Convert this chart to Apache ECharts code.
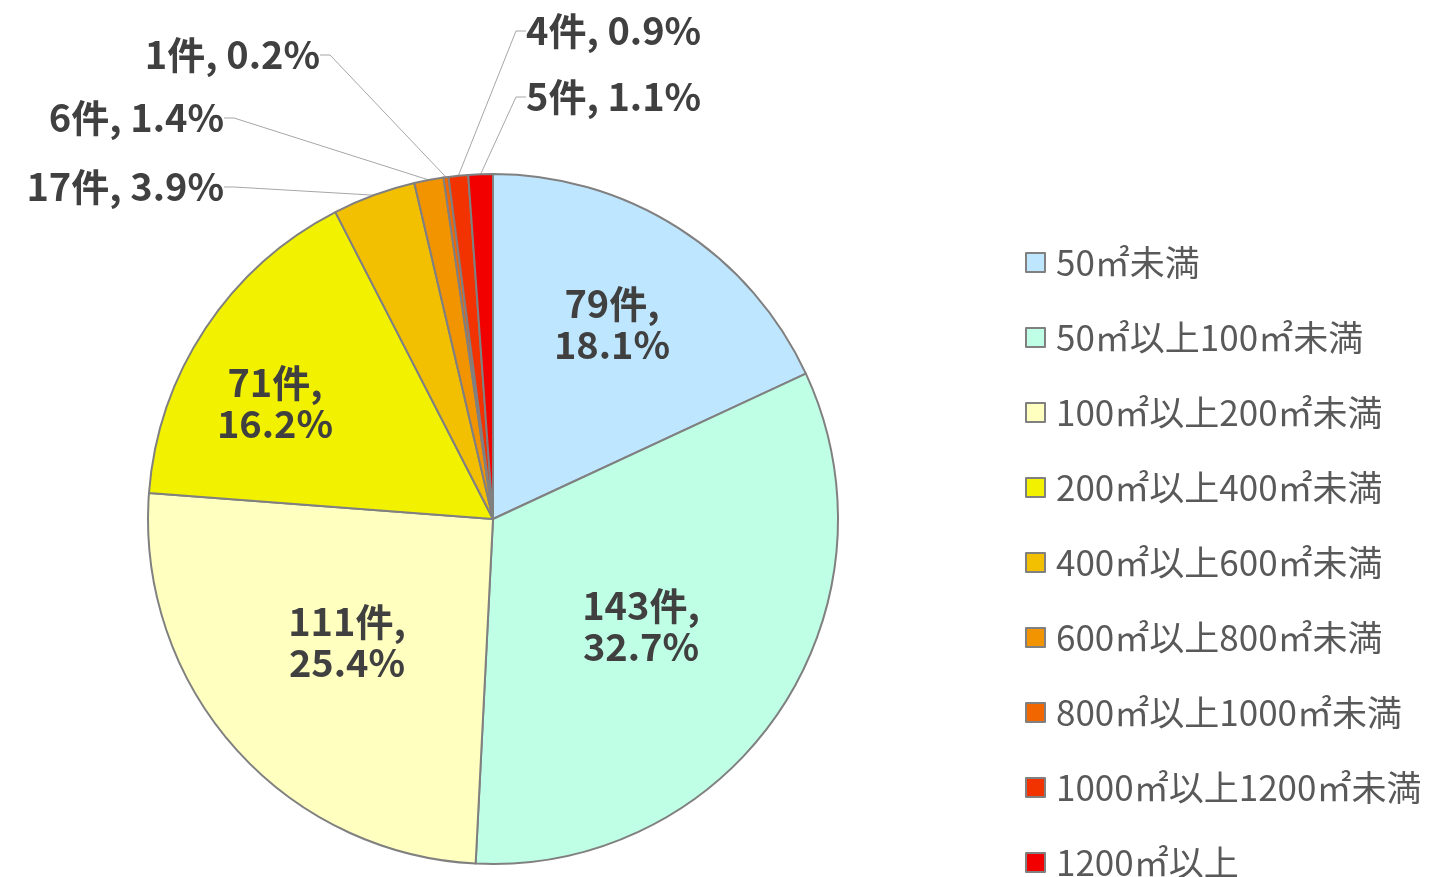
<!DOCTYPE html>
<html>
<head>
<meta charset="utf-8">
<script src="https://cdn.jsdelivr.net/npm/echarts@6/dist/echarts.min.js"></script>
<style>
  html, body { margin: 0; padding: 0; background: #fff; }
  #chart { width: 1454px; height: 877px; }
</style>
</head>
<body>
<div id="chart"></div>
<script>
// 面積区分ごとの件数
var categories = [
  '50㎡未満', '50㎡以上100㎡未満', '100㎡以上200㎡未満', '200㎡以上400㎡未満',
  '400㎡以上600㎡未満', '600㎡以上800㎡未満', '800㎡以上1000㎡未満',
  '1000㎡以上1200㎡未満', '1200㎡以上'
]
var counts = [79, 143, 111, 71, 17, 6, 1, 4, 5]
var colors = ['#BFE6FF', '#BFFFE6', '#FFFFC0', '#F2F200', '#F2C000', '#F29400', '#F26600', '#F23300', '#F20000']

// ラベルの置き場所（x, y, 揃え）
var labelPos = [
  [612, 324, 'center'],
  [641, 626, 'center'],
  [347, 642, 'center'],
  [275, 403, 'center'],
  [224, 187, 'right'],
  [224, 118, 'right'],
  [320, 55, 'right'],
  [526, 31, 'left'],
  [526, 97, 'left']
]

var total = counts.reduce(function (a, b) { return a + b }, 0)
var fontCJK = "'Noto Sans CJK JP', 'Noto Sans', sans-serif"

var chart = echarts.init(document.getElementById('chart'))

var seriesData = categories.map(function (name, i) {
  var inside = counts[i] > 50
  return {
    name: name,
    value: counts[i],
    itemStyle: { color: colors[i] },
    label: { position: inside ? 'inside' : 'outside' },
    labelLine: { show: !inside }
  }
})

chart.setOption({
  animation: false,
  legend: {
    orient: 'vertical',
    left: 1025,
    top: 245,
    height: 700,
    padding: 0,
    itemWidth: 19,
    itemHeight: 19,
    itemGap: 40,
    icon: 'rect',
    itemStyle: { borderColor: '#808080', borderWidth: 2 },
    textStyle: { fontFamily: fontCJK, fontSize: 35, color: '#595959', padding: [0, 0, 0, 6] },
    data: categories
  },
  series: [{
    type: 'pie',
    center: [493, 519],
    radius: 345,
    startAngle: 90,
    clockwise: true,
    avoidLabelOverlap: false,
    itemStyle: { borderColor: '#808080', borderWidth: 2 },
    label: {
      fontFamily: fontCJK,
      fontWeight: 'bold',
      fontSize: 38,
      lineHeight: 41,
      color: '#404040',
      formatter: function (p) {
        var pct = (p.value / total * 100).toFixed(1) + '%'
        return p.value > 50 ? p.value + '件,\n' + pct : p.value + '件, ' + pct
      }
    },
    labelLine: {
      length: 10,
      length2: 10,
      lineStyle: { color: '#A6A6A6', width: 1 }
    },
    labelLayout: function (params) {
      var pos = labelPos[params.dataIndex]
      return { x: pos[0], y: pos[1], align: pos[2], verticalAlign: 'middle' }
    },
    data: seriesData
  }]
})
</script>
</body>
</html>
